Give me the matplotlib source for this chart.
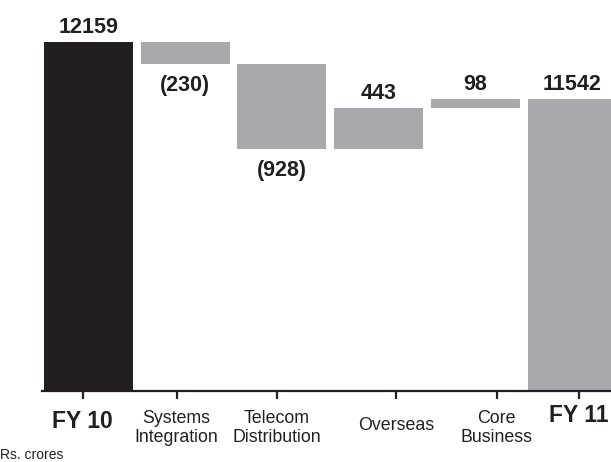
import matplotlib
matplotlib.use('Agg')
import matplotlib.pyplot as plt
import numpy as np

matplotlib.rc('font', family=['Liberation Sans', 'DejaVu Sans'])

# data (Rs. crores)
labels = ['FY 10', 'Systems\nIntegration', 'Telecom\nDistribution',
          'Overseas', 'Core\nBusiness', 'FY 11']
values = [12159, -230, -928, 443, 98, 11542]
is_total = [True, False, False, False, False, True]

dark = '#231f20'
grey = '#a7a9ac'

fig = plt.figure(figsize=(6.11, 4.62), dpi=100)
ax = fig.add_axes([42/611, 71.5/462, 1 - 42/611, 1 - 71.5/462])

x = np.arange(len(values))
bottoms, heights = [], []
running = 0
for v, tot in zip(values, is_total):
    if tot:
        bottoms.append(0)
        heights.append(v)
        running = v
    else:
        bottoms.append(running if v >= 0 else running + v)
        heights.append(abs(v))
        running += v
colors = [dark] + [grey] * (len(values) - 1)

ax.bar(x, heights, bottom=bottoms, width=0.92, color=colors, linewidth=0)

# value labels
for xi, v, b, h, tot in zip(x, values, bottoms, heights, is_total):
    if v >= 0 or tot:
        ax.annotate('%d' % v, (xi, b + h), xytext=(0, 3), textcoords='offset points',
                    ha='center', va='bottom', fontsize=15.5, fontweight='bold', color=dark)
    else:
        ax.annotate('(%d)' % -v, (xi, b), xytext=(0, -8), textcoords='offset points',
                    ha='center', va='top', fontsize=15.5, fontweight='bold', color=dark)

ax.set_ylim(8380, 12620)
ax.set_xlim(-0.481, 5.403)

# tick marks sit a little off the bar centres in the original
tick_shift = [-0.06, -0.09, -0.05, 0.18, 0.22, 0.07]
ticks = x + np.array(tick_shift)
ax.set_xticks(ticks)
ax.set_xticklabels([])
ax.tick_params(axis='x', direction='out', length=6, width=1.6, color=dark)
ax.set_yticks([])

label_drop = [31.5, 37.5, 37.5, 35.5, 37.5, 24.5]
for t, lab, tot, d in zip(ticks, labels, is_total, label_drop):
    ax.annotate(lab, (t, 0), xycoords=ax.get_xaxis_transform(),
                xytext=(0, -d), textcoords='offset pixels',
                ha='center', va='center', color=dark,
                fontsize=16.5 if tot else 12.8,
                fontweight='bold' if tot else 'normal',
                linespacing=1.12, annotation_clip=False)

for s in ['top', 'right', 'left']:
    ax.spines[s].set_visible(False)
ax.spines['bottom'].set_linewidth(1.6)
ax.spines['bottom'].set_color(dark)

fig.text(0.0, 1 - 455/462, 'Rs. crores', ha='left', va='center', fontsize=10, color=dark)

fig.savefig('out.png', dpi=100)
